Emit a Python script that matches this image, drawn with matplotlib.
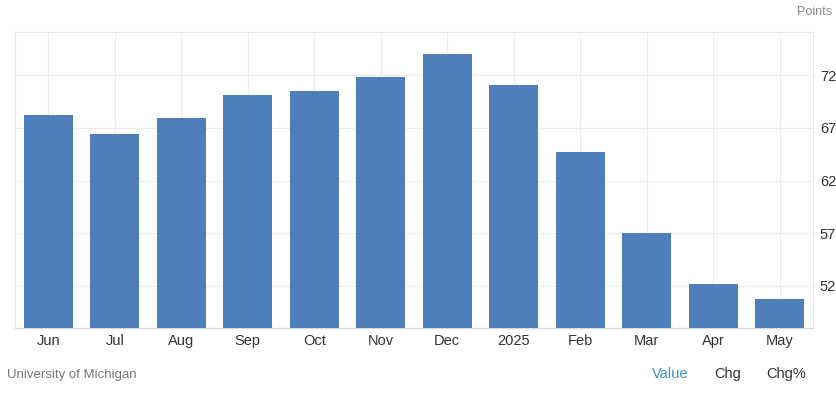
import matplotlib.pyplot as plt

months = ["Jun", "Jul", "Aug", "Sep", "Oct", "Nov", "Dec", "2025", "Feb", "Mar", "Apr", "May"]
values = [68.2, 66.4, 67.9, 70.1, 70.5, 71.8, 74.0, 71.1, 64.7, 57.0, 52.2, 50.8]
yticks = [52, 57, 62, 67, 72]

plt.rcParams['font.family'] = ['Liberation Sans', 'DejaVu Sans']

fig = plt.figure(figsize=(8.37, 4.0), dpi=100)
ax = fig.add_axes([15 / 837, 72 / 400, 798 / 837, 296 / 400])

x = list(range(len(months)))
ax.bar(x, values, width=0.74, color='#4f7fba', zorder=3)

ax.set_xlim(-0.5, len(months) - 0.5)
ax.set_ylim(48, 76.1)

ax.set_xticks(x)
ax.set_xticklabels(months, fontsize=10.5, color='#333333')
ax.set_yticks(yticks)
ax.set_yticklabels([str(t) for t in yticks], fontsize=10.5, color='#333333')
ax.yaxis.tick_right()
ax.tick_params(axis='both', length=0)
ax.tick_params(axis='x', pad=4)
ax.tick_params(axis='y', pad=5)

ax.grid(True, color='#ececec', linewidth=0.8, zorder=0)

for side in ['top', 'left', 'right']:
    ax.spines[side].set_color('#e6e6e6')
    ax.spines[side].set_linewidth(0.8)
ax.spines['bottom'].set_color('#d9d9d9')
ax.spines['bottom'].set_linewidth(1.0)

fig.text(832 / 837, 1 - 12 / 400, "Points", ha='right', va='center', fontsize=9, color='#888888')
fig.text(7 / 837, 1 - 375 / 400, "University of Michigan", ha='left', va='center', fontsize=9.5, color='#777777')
fig.text(670 / 837, 1 - 374 / 400, "Value", ha='center', va='center', fontsize=10.5, color='#3b8fd0')
fig.text(728 / 837, 1 - 374 / 400, "Chg", ha='center', va='center', fontsize=10.5, color='#333333')
fig.text(786 / 837, 1 - 374 / 400, "Chg%", ha='center', va='center', fontsize=10.5, color='#333333')

fig.savefig('out.png', dpi=100)
